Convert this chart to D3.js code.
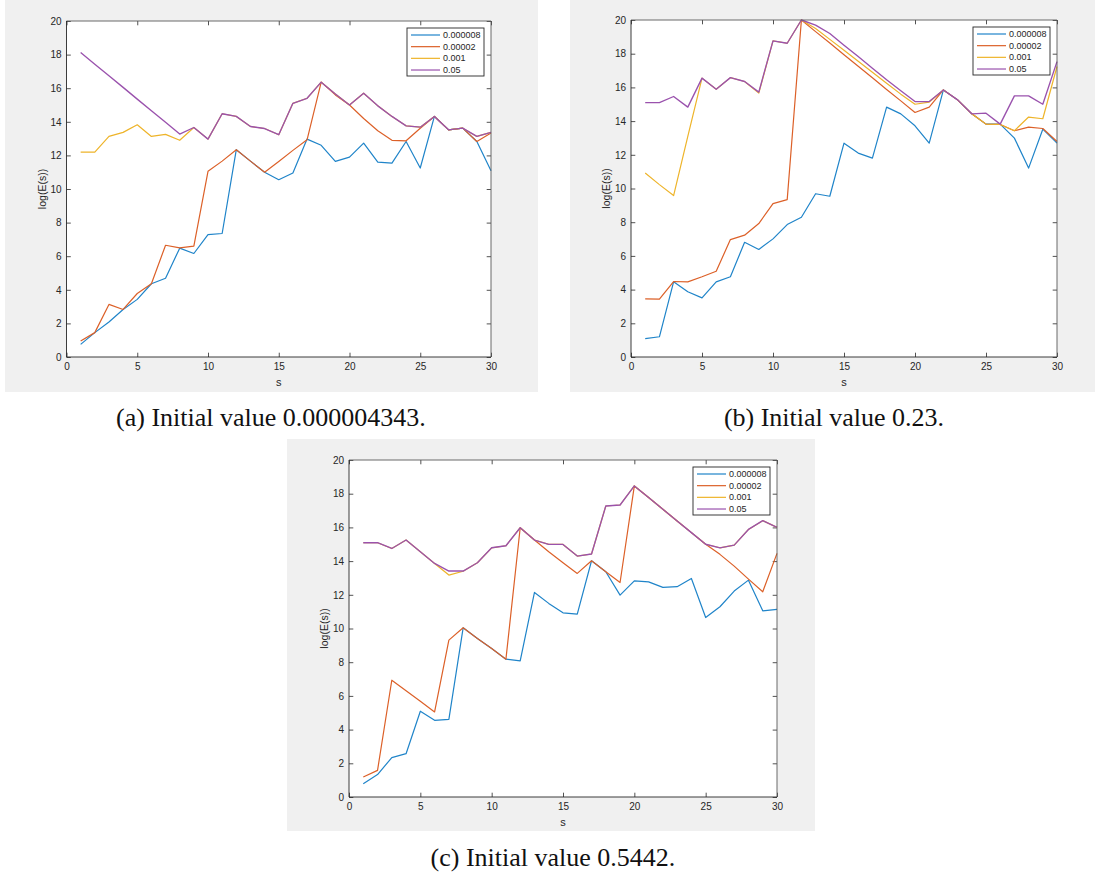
<!DOCTYPE html>
<html><head><meta charset="utf-8">
<script src="https://cdn.jsdelivr.net/npm/d3@7"></script>
<style>body{margin:0;background:#fff}</style>
</head><body>
<svg id="chart" width="1095" height="879"></svg>
<script>
// ---------- data ----------
const sValues = [1,2,3,4,5,6,7,8,9,10,11,12,13,14,15,16,17,18,19,20,21,22,23,24,25,26,27,28,29,30];
const seriesNames = ["0.000008","0.00002","0.001","0.05"];
const xTickValues = [0,5,10,15,20,25,30];
const yTickValues = [0,2,4,6,8,10,12,14,16,18,20];
const captions = ["(a) Initial value 0.000004343.", "(b) Initial value 0.23.", "(c) Initial value 0.5442."];

// panel (a)
const aBlue   = [0.75,1.45,2.08,2.83,3.43,4.36,4.69,6.48,6.16,7.29,7.35,12.34,11.66,11.0,10.55,10.95,12.97,12.6,11.64,11.9,12.73,11.6,11.54,12.83,11.25,14.32,13.52,13.62,12.83,11.09];
const aOrange = [0.95,1.45,3.13,2.83,3.78,4.36,6.65,6.5,6.6,11.05,11.66,12.34,11.66,11.0,11.64,12.3,12.93,16.36,15.6,15.0,14.2,13.47,12.9,12.87,13.62,14.32,13.52,13.62,12.83,13.33];
const aYellow = [12.2,12.2,13.13,13.37,13.82,13.13,13.25,12.9,13.66,12.97,14.48,14.32,13.72,13.6,13.23,15.1,15.4,16.36,15.66,15.0,15.7,14.95,14.32,13.76,13.68,14.32,13.52,13.62,13.13,13.37];
const aPurple = [18.12,17.43,16.74,16.05,15.35,14.66,13.97,13.27,13.66,12.97,14.48,14.32,13.72,13.6,13.23,15.1,15.4,16.36,15.66,15.0,15.7,14.95,14.32,13.76,13.68,14.32,13.52,13.62,13.13,13.37];

// panel (b)
const bBlue   = [1.09,1.2,4.46,3.87,3.51,4.46,4.76,6.81,6.38,7.01,7.86,8.29,9.69,9.54,12.69,12.1,11.8,14.83,14.43,13.72,12.69,15.85,15.26,14.43,13.82,13.82,12.99,11.21,13.52,12.69];
const bOrange = [3.45,3.43,4.48,4.46,4.76,5.09,6.97,7.23,7.92,9.1,9.34,20.0,19.31,18.63,17.94,17.26,16.57,15.88,15.2,14.51,14.83,15.85,15.26,14.43,13.82,13.8,13.43,13.64,13.56,12.79];
const bYellow = [10.92,10.23,9.58,13.09,16.55,15.89,16.58,16.35,15.66,18.76,18.62,20.0,19.5,18.85,18.2,17.55,16.9,16.25,15.6,15.0,15.13,15.85,15.26,14.43,13.82,13.8,13.43,14.24,14.14,17.24];
const bPurple = [15.1,15.1,15.46,14.83,16.55,15.89,16.58,16.35,15.72,18.76,18.62,20.0,19.7,19.2,18.5,17.83,17.14,16.45,15.8,15.16,15.16,15.85,15.26,14.43,14.47,13.82,15.5,15.5,15.0,17.53];

// panel (c)
const cBlue   = [0.79,1.33,2.34,2.57,5.09,4.55,4.61,10.04,9.41,8.81,8.18,8.08,12.14,11.49,10.93,10.85,14.02,13.37,11.98,12.83,12.77,12.44,12.48,12.97,10.65,11.29,12.22,12.87,11.05,11.13];
const cOrange = [1.19,1.58,6.93,6.3,5.68,5.05,9.31,10.04,9.41,8.81,8.18,15.98,15.25,14.55,13.9,13.27,14.02,13.37,12.73,18.46,17.77,17.08,16.38,15.69,15.0,14.4,13.7,12.93,12.18,14.46];
const cYellow = [15.09,15.09,14.75,15.25,14.55,13.86,13.17,13.4,13.9,14.79,14.91,15.98,15.25,14.99,14.99,14.3,14.42,17.27,17.33,18.46,17.77,17.08,16.38,15.69,15.0,14.79,14.95,15.88,16.4,16.0];
const cPurple = [15.09,15.09,14.75,15.25,14.55,13.86,13.41,13.41,13.9,14.79,14.91,15.98,15.25,14.99,14.99,14.3,14.42,17.27,17.33,18.46,17.77,17.08,16.38,15.69,15.0,14.79,14.95,15.88,16.4,16.0];

// ---------- layout / style ----------
const seriesColors = ["#1f84c9","#dc6028","#eeb42a","#9a52ad"];
const panels = [
  {bg:{x:5,y:0,w:533,h:392},   plot:{l:66.5,t:21,r:491,b:357},  cap:{x:271,y:426}, series:[aBlue,aOrange,aYellow,aPurple]},
  {bg:{x:570,y:0,w:525,h:392}, plot:{l:631,t:20,r:1057,b:357},  cap:{x:834,y:426}, series:[bBlue,bOrange,bYellow,bPurple]},
  {bg:{x:287,y:439,w:528,h:392}, plot:{l:349,t:460,r:777,b:797}, cap:{x:553,y:866}, series:[cBlue,cOrange,cYellow,cPurple]}
];
const axisColor = "#262626";
const sansFont = "'Liberation Sans', Arial, Helvetica, sans-serif";
const serifFont = "'Liberation Serif', 'Times New Roman', serif";

const svg = d3.select("#chart");

panels.forEach((p, pi) => {
  const g = svg.append("g");
  g.append("rect").attr("x",p.bg.x).attr("y",p.bg.y).attr("width",p.bg.w).attr("height",p.bg.h).attr("fill","#f0f0f0");
  const P = p.plot;
  g.append("rect").attr("x",P.l).attr("y",P.t).attr("width",P.r-P.l).attr("height",P.b-P.t).attr("fill","#fff");

  const x = d3.scaleLinear().domain([0,30]).range([P.l,P.r]);
  const y = d3.scaleLinear().domain([0,20]).range([P.b,P.t]);
  const tl = 4.3;

  const styleAxis = sel => {
    sel.selectAll(".domain").remove();
    sel.selectAll("line").attr("stroke",axisColor).attr("stroke-width",0.8);
    sel.selectAll("text").attr("fill",axisColor).style("font-family",sansFont).style("font-size","10px");
  };

  g.append("g").attr("transform",`translate(0,${P.b})`)
    .call(d3.axisBottom(x).tickValues(xTickValues).tickSize(-tl).tickPadding(6).tickFormat(d3.format("d")))
    .call(styleAxis);
  g.append("g").attr("transform",`translate(${P.l},0)`)
    .call(d3.axisLeft(y).tickValues(yTickValues).tickSize(-tl).tickPadding(5).tickFormat(d3.format("d")))
    .call(styleAxis);
  g.append("g").attr("transform",`translate(0,${P.t})`)
    .call(d3.axisTop(x).tickValues(xTickValues).tickSize(-tl).tickFormat(""))
    .call(styleAxis);
  g.append("g").attr("transform",`translate(${P.r},0)`)
    .call(d3.axisRight(y).tickValues(yTickValues).tickSize(-tl).tickFormat(""))
    .call(styleAxis);

  // lines
  const line = d3.line().x((d,i)=>x(sValues[i])).y(d=>y(d));
  p.series.forEach((vals, si) => {
    g.append("path").datum(vals).attr("d",line).attr("fill","none")
      .attr("stroke",seriesColors[si]).attr("stroke-width",si===3?1.35:1.2).attr("stroke-linejoin","round");
  });

  // box
  g.append("path").attr("d",`M${P.l},${P.t}H${P.r}V${P.b}`).attr("fill","none").attr("stroke","#5a5a5a").attr("stroke-width",0.9);
  g.append("path").attr("d",`M${P.l},${P.t}V${P.b}H${P.r}`).attr("fill","none").attr("stroke",axisColor).attr("stroke-width",0.9);

  // axis labels
  g.append("text").attr("x",(P.l+P.r)/2).attr("y",P.b+29).attr("text-anchor","middle")
    .attr("fill",axisColor).style("font-family",sansFont).style("font-size","11px").text("s");
  g.append("text").attr("transform",`translate(${P.l-21},${(P.t+P.b)/2}) rotate(-90)`).attr("text-anchor","middle")
    .attr("fill",axisColor).style("font-family",sansFont).style("font-size","10.5px").text("log(E(s))");

  // legend
  const lw = 77, lh = 48;
  const lx = P.r - 7 - lw, ly = P.t + 7;
  const lg = g.append("g");
  lg.append("rect").attr("x",lx).attr("y",ly).attr("width",lw).attr("height",lh)
    .attr("fill","#fff").attr("stroke",axisColor).attr("stroke-width",0.9);
  seriesNames.forEach((name, si) => {
    const ry = ly + 7 + si*11.67;
    lg.append("line").attr("x1",lx+4).attr("x2",lx+33).attr("y1",ry).attr("y2",ry)
      .attr("stroke",seriesColors[si]).attr("stroke-width",1.2);
    lg.append("text").attr("x",lx+36).attr("y",ry).attr("dy","0.35em")
      .attr("fill",axisColor).style("font-family",sansFont).style("font-size","9px").text(name);
  });

  // caption
  svg.append("text").attr("x",p.cap.x).attr("y",p.cap.y).attr("text-anchor","middle")
    .attr("fill","#111").style("font-family",serifFont).style("font-size","26px").text(captions[pi]);
});
</script>
</body></html>
